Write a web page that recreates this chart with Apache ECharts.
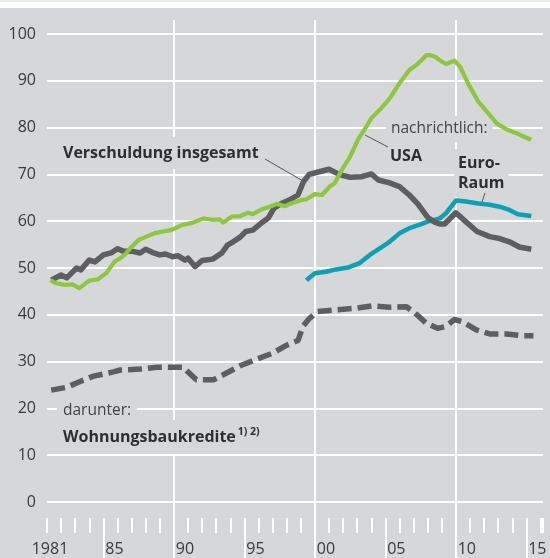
<!DOCTYPE html>
<html>
<head>
<meta charset="utf-8">
<script src="https://cdn.jsdelivr.net/npm/echarts@6/dist/echarts.min.js"></script>
<style>
  html, body { margin: 0; padding: 0; background: #d6d7d9; }
  #chart { width: 550px; height: 558px; }
</style>
</head>
<body>
<div id="chart"></div>
<script>
// Verschuldung der privaten Haushalte, in % des BIP (Jahr, Wert)
const gesamt = [
  [1981.3, 47.4], [1982.0, 48.5], [1982.4, 47.9], [1983.1, 50.0], [1983.4, 49.6], [1984.0, 51.7],
  [1984.4, 51.3], [1985.0, 52.8], [1985.6, 53.3], [1986.0, 54.1], [1986.4, 53.6], [1987.0, 53.6],
  [1987.6, 53.2], [1988.0, 54.0], [1988.5, 53.3], [1989.0, 52.8], [1989.4, 53.0], [1989.9, 52.4],
  [1990.3, 52.6], [1990.8, 51.7], [1991.0, 52.1], [1991.5, 50.3], [1992.0, 51.6], [1992.75, 51.9],
  [1993.4, 53.2], [1993.8, 54.9], [1994.2, 55.6], [1994.7, 56.6], [1995.1, 57.8], [1995.6, 58.1],
  [1996.2, 59.6], [1996.7, 60.7], [1997.1, 62.8], [1997.7, 63.9], [1998.3, 64.7], [1998.8, 65.6],
  [1999.2, 68.5], [1999.6, 70.0], [2000.1, 70.4], [2001.0, 71.1], [2001.8, 69.9], [2002.5, 69.4],
  [2003.3, 69.5], [2004.0, 70.1], [2004.5, 68.8], [2005.3, 68.2], [2006.0, 67.4], [2006.7, 65.6],
  [2007.3, 63.7], [2008.0, 60.8], [2008.5, 59.8], [2008.85, 59.4], [2009.2, 59.4], [2010.0, 61.8],
  [2010.7, 59.9], [2011.5, 57.8], [2012.4, 56.7], [2013.1, 56.3], [2013.8, 55.6], [2014.5, 54.5],
  [2015.35, 54.0]
];
const usa = [
  [1981.25, 47.4], [1981.6, 46.8], [1982.25, 46.4], [1982.8, 46.5], [1983.3, 45.7], [1984.0, 47.3],
  [1984.6, 47.6], [1985.2, 48.9], [1985.8, 51.4], [1986.2, 52.1], [1986.5, 52.8], [1986.9, 54.2],
  [1987.5, 56.0], [1988.05, 56.7], [1988.6, 57.4], [1989.2, 57.8], [1989.8, 58.1], [1990.3, 58.8],
  [1990.6, 59.2], [1991.35, 59.7], [1992.1, 60.6], [1992.7, 60.3], [1993.25, 60.4], [1993.5, 59.7],
  [1994.1, 61.0], [1994.7, 61.1], [1995.25, 61.8], [1995.6, 61.5], [1996.2, 62.5], [1996.8, 63.1],
  [1997.3, 63.7], [1997.9, 63.2], [1998.3, 63.8], [1999.0, 64.5], [1999.4, 64.7], [2000.0, 65.8],
  [2000.5, 65.6], [2001.05, 67.4], [2001.4, 68.1], [2001.9, 70.9], [2002.5, 73.8], [2003.05, 77.4],
  [2003.65, 80.2], [2004.0, 82.0], [2004.6, 83.8], [2005.1, 85.5], [2005.4, 86.6], [2006.0, 89.5],
  [2006.7, 92.3], [2007.2, 93.4], [2007.6, 94.5], [2007.9, 95.5], [2008.1, 95.5], [2008.5, 95.2],
  [2008.85, 94.4], [2009.3, 93.6], [2009.9, 94.3], [2010.3, 93.0], [2010.85, 89.5], [2011.6, 85.5],
  [2012.2, 83.4], [2012.9, 80.9], [2013.6, 79.6], [2014.3, 78.8], [2014.8, 78.1], [2015.35, 77.4]
];
const euroRaum = [
  [1999.4, 47.4], [2000.0, 48.9], [2000.8, 49.2], [2001.5, 49.7], [2002.35, 50.1], [2003.2, 51.1],
  [2003.9, 52.8], [2004.6, 54.2], [2005.3, 55.6], [2006.0, 57.4], [2006.7, 58.5], [2007.4, 59.2],
  [2008.0, 59.9], [2008.85, 60.6], [2009.3, 61.7], [2010.0, 64.4], [2010.7, 64.2], [2011.6, 63.8],
  [2012.4, 63.5], [2013.1, 63.1], [2013.8, 62.4], [2014.4, 61.5], [2015.35, 61.1]
];
const wohnungsbau = [
  [1981.3, 23.9], [1982.4, 24.5], [1983.3, 25.7], [1984.3, 26.9], [1985.7, 27.8], [1986.2, 28.2],
  [1987.6, 28.4], [1988.8, 28.8], [1989.9, 28.8], [1990.65, 28.8], [1991.1, 27.5], [1991.6, 26.1],
  [1992.8, 26.1], [1993.7, 27.5], [1994.7, 29.1], [1995.85, 30.5], [1997.0, 31.8], [1998.0, 33.5],
  [1998.8, 34.5], [1999.15, 37.5], [1999.6, 39.2], [2000.2, 40.7], [2001.3, 41.0], [2002.9, 41.4],
  [2004.1, 41.9], [2005.3, 41.6], [2006.5, 41.7], [2007.1, 40.4], [2007.9, 38.2], [2008.7, 37.1],
  [2009.3, 37.5], [2009.9, 39.0], [2010.5, 38.5], [2011.45, 36.8], [2012.4, 35.9], [2013.6, 35.9],
  [2014.75, 35.5], [2015.5, 35.5]
];
const yearLabels = [1981, 1985, 1990, 1995, 2000, 2005, 2010, 2015];
const decadeLines = [1990, 2000, 2010];
const halfDecades = [1985, 1995, 2005, 2015];

const bg = '#d6d7d9';
const font = '"Open Sans", "Noto Sans", sans-serif';
const white = { color: '#fff', width: 2 };

let chart = echarts.init(document.getElementById('chart'));

const xBase = { type: 'value', min: 1981, max: 2016.18, axisLine: { show: false }, axisLabel: { show: false }, splitLine: { show: false } };

chart.setOption({
  backgroundColor: bg,
  animation: false,
  grid: { left: 47, right: 7, top: 34, bottom: 56 },
  xAxis: [
    // Datenachse mit Dekaden-Linien
    Object.assign({}, xBase, {
      position: 'bottom',
      axisTick: { show: true, customValues: decadeLines, length: 56, lineStyle: white },
      splitLine: { show: true, lineStyle: white }
    }),
    // Jahres-Striche und Beschriftung
    Object.assign({}, xBase, {
      position: 'bottom',
      offset: 16,
      interval: 1,
      axisTick: { show: true, length: 15, lineStyle: white },
      axisLabel: {
        show: true,
        customValues: yearLabels,
        margin: 23,
        fontSize: 16,
        fontFamily: font,
        color: '#3a3a3a',
        formatter: v => v === 1981 ? '{f|1981}' : '{s|' + String(v).slice(2) + '}',
        rich: {
          f: { fontSize: 16, fontFamily: font, color: '#3a3a3a', padding: [0, 0, 0, 6] },
          s: { fontSize: 16, fontFamily: font, color: '#3a3a3a', padding: [0, 0, 0, 22] }
        }
      }
    }),
    Object.assign({}, xBase, {
      position: 'bottom',
      offset: 16,
      axisTick: { show: true, customValues: halfDecades, length: 40, lineStyle: white }
    }),
    Object.assign({}, xBase, {
      position: 'top',
      axisTick: { show: true, customValues: decadeLines, length: 14, lineStyle: white }
    })
  ],
  yAxis: {
    type: 'value',
    min: 0,
    max: 100,
    interval: 10,
    axisLine: { show: false },
    axisTick: { show: false },
    axisLabel: { fontSize: 16, fontFamily: font, color: '#3a3a3a', margin: 11 },
    splitLine: { lineStyle: white }
  },
  series: [
    {
      type: 'line', data: wohnungsbau, showSymbol: false, z: 2,
      lineStyle: { color: '#5e5e60', width: 5.5, type: [14, 6], cap: 'butt', join: 'round' }
    },
    {
      type: 'line', data: euroRaum, showSymbol: false, z: 3,
      lineStyle: { color: '#0ca0b3', width: 4.5, join: 'round' }
    },
    {
      type: 'line', data: gesamt, showSymbol: false, z: 4,
      lineStyle: { color: '#5e5e60', width: 5.5, join: 'round' }
    },
    {
      type: 'line', data: usa, showSymbol: false, z: 5,
      lineStyle: { color: '#8dc63f', width: 4.2, join: 'round' }
    }
  ],
  graphic: [
    { type: 'rect', z: 10, shape: { x: 0, y: 0, width: 550, height: 8 }, style: { fill: '#fff' } },
    { type: 'rect', z: 11, shape: { x: 0, y: 0, width: 550, height: 2 }, style: { fill: '#ebebeb' } },
    {
      type: 'text', z: 1, x: 59, y: 153,
      style: { text: 'Verschuldung insgesamt', fontSize: 16, fontWeight: 'bold', fontFamily: font, fill: '#2e2e2e',
        verticalAlign: 'middle', backgroundColor: bg, padding: [8, 4] }
    },
    { type: 'line', z: 1, shape: { x1: 265, y1: 159, x2: 303, y2: 181 }, style: { stroke: '#333', lineWidth: 0.8 } },
    {
      type: 'text', z: 1, x: 386, y: 129,
      style: { text: 'nachrichtlich:', fontSize: 15.5, fontFamily: font, fill: '#444',
        verticalAlign: 'middle', backgroundColor: bg, padding: [5, 5] }
    },
    {
      type: 'text', z: 1, x: 386, y: 156,
      style: { text: 'USA', fontSize: 16, fontWeight: 'bold', fontFamily: font, fill: '#2e2e2e',
        verticalAlign: 'middle', backgroundColor: bg, padding: [5, 4] }
    },
    { type: 'line', z: 1, shape: { x1: 365, y1: 135, x2: 388, y2: 147 }, style: { stroke: '#333', lineWidth: 0.8 } },
    {
      type: 'text', z: 1, x: 454, y: 173,
      style: { text: 'Euro-\nRaum', fontSize: 16, fontWeight: 'bold', fontFamily: font, fill: '#2e2e2e', lineHeight: 20,
        verticalAlign: 'middle', backgroundColor: bg, padding: [4, 4] }
    },
    { type: 'line', z: 1, shape: { x1: 485, y1: 193, x2: 482, y2: 202 }, style: { stroke: '#333', lineWidth: 0.8 } },
    {
      type: 'text', z: 1, x: 57, y: 411,
      style: { text: 'darunter:', fontSize: 15.5, fontFamily: font, fill: '#444',
        verticalAlign: 'middle', backgroundColor: bg, padding: [4, 6] }
    },
    {
      type: 'text', z: 1, x: 59, y: 437,
      style: { text: '{b|Wohnungsbaukredite}{s|1) 2)}', fontFamily: font, fill: '#2e2e2e',
        verticalAlign: 'middle', backgroundColor: bg, padding: [7, 4],
        rich: {
          b: { fontSize: 16, fontWeight: 'bold', fontFamily: font, fill: '#2e2e2e', lineHeight: 20 },
          s: { fontSize: 10.5, fontWeight: 'bold', fontFamily: font, fill: '#2e2e2e', verticalAlign: 'top', lineHeight: 20, padding: [0, 0, 0, 2] }
        }
      }
    }
  ]
});
</script>
</body>
</html>
